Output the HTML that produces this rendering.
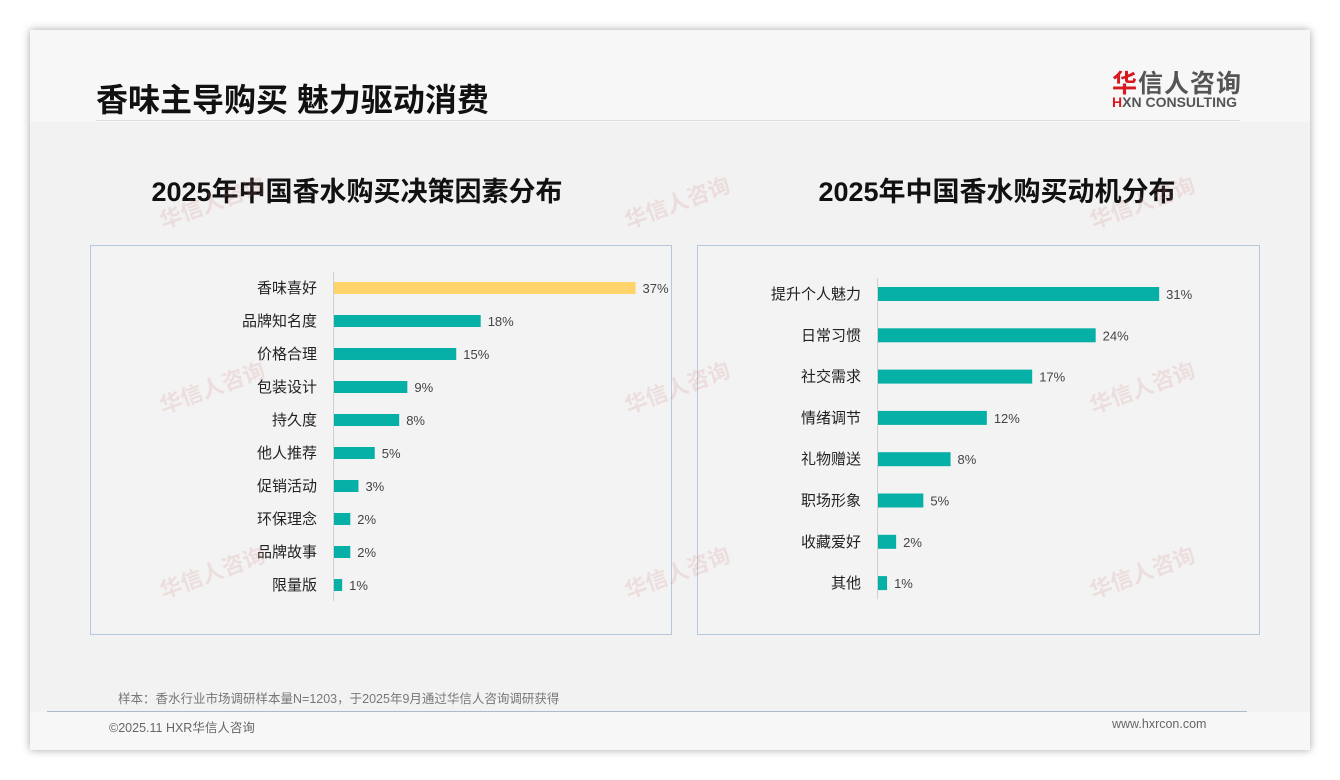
<!DOCTYPE html>
<html><head><meta charset="utf-8"><style>
body{margin:0;width:1340px;height:780px;background:#fff;font-family:"Liberation Sans","Noto Sans CJK SC",sans-serif;position:relative;overflow:hidden}
.slide{position:absolute;left:30px;top:30px;width:1280px;height:720px;background:#f2f2f2;box-shadow:0 0 8px rgba(0,0,0,.35)}
.hdr{position:absolute;left:0;top:0;width:1280px;height:92px;background:#f7f7f7}
.foot{position:absolute;left:0;top:682px;width:1280px;height:38px;background:#f7f7f7}
.abs{position:absolute}
</style></head><body>
<div class="slide">
<div class="hdr"></div>
<div class="foot"></div>
<div class="abs" style="left:66px;top:45px;font-size:32px;font-weight:bold;color:#111">香味主导购买 魅力驱动消费</div>
<div class="abs" style="left:66px;top:90px;width:1144px;height:1px;background:#ddd"></div>
<div class="abs" style="left:1082px;top:34px;font-size:25px;font-weight:bold;color:#555;letter-spacing:1px"><span style="color:#d71920">华</span>信人咨询</div>
<div class="abs" style="left:1082px;top:64px;font-size:14px;font-weight:bold;color:#555"><span style="color:#d71920">H</span>XN CONSULTING</div>
<div class="abs" style="left:88px;top:658px;font-size:12.5px;color:#777">样本：香水行业市场调研样本量N=1203，于2025年9月通过华信人咨询调研获得</div>
<div class="abs" style="left:17px;top:681px;width:1200px;height:1px;background:#aabccc"></div>
<div class="abs" style="left:79px;top:687px;font-size:12.5px;color:#666">©2025.11 HXR华信人咨询</div>
<div class="abs" style="left:1082px;top:687px;font-size:12.5px;color:#666">www.hxrcon.com</div>
</div>
<svg id="c" class="abs" style="left:0;top:0" width="1340" height="780"></svg>
<script>
const leftCats=["香味喜好","品牌知名度","价格合理","包装设计","持久度","他人推荐","促销活动","环保理念","品牌故事","限量版"];
const leftVals=[37,18,15,9,8,5,3,2,2,1];
const rightCats=["提升个人魅力","日常习惯","社交需求","情绪调节","礼物赠送","职场形象","收藏爱好","其他"];
const rightVals=[31,24,17,12,8,5,2,1];
const NS="http://www.w3.org/2000/svg";
const svg=document.getElementById('c');
function mk(t,a,txt){const e=document.createElementNS(NS,t);for(const k in a)e.setAttribute(k,a[k]);if(txt!==undefined)e.textContent=txt;svg.appendChild(e);return e;}
function chart(o){
 const box=mk('rect',{x:o.bx,y:245.5,width:o.bw,height:389,fill:'#f3f3f3',stroke:'#b8c8dc'});
 
 
 const t=mk('text',{x:o.tx,y:201,'text-anchor':'middle','font-size':27,'font-weight':'bold',fill:'#111'},o.title);
 
 
 const ax=mk('line',{x1:o.ax+0.5,x2:o.ax+0.5,y1:o.y0-16,y2:o.y0+o.step*(o.cats.length-1)+16,stroke:'#d0d0d0'});
 
 
 const xs=v=>o.ax+v*o.k;
 o.cats.forEach((c,i)=>{
  const y=o.y0+i*o.step;
  const l=mk('text',{x:o.ax-16,y:y+5,'text-anchor':'end','font-size':15,fill:'#222'},c);
  
  
  const b=mk('rect',{x:o.ax+1,y:y-o.bh/2,width:xs(o.vals[i])-o.ax,height:o.bh,fill:(o.hl&&i==0)?'#fdd36a':'#07b0a6'});
  
  
  const v=mk('text',{x:xs(o.vals[i])+8,y:y+5,'font-size':13,fill:'#444'},o.vals[i]+'%');
  
  
 });
}
chart({name:'decision-factors',bx:90.5,bw:581,tx:357,title:'2025年中国香水购买决策因素分布',ax:333,y0:288,step:33,k:8.15,bh:12,cats:leftCats,vals:leftVals,hl:true});
chart({name:'purchase-motives',bx:697.5,bw:562,tx:997,title:'2025年中国香水购买动机分布',ax:877,y0:294,step:41.3,k:9.07,bh:14,cats:rightCats,vals:rightVals,hl:false});
// watermarks on top, faint
[[215,210],[680,210],[1145,210],[215,395],[680,395],[1145,395],[215,580],[680,580],[1145,580]].forEach(p=>{
 const w=mk('text',{x:p[0],y:p[1],'text-anchor':'middle','font-size':22,'font-weight':'bold',fill:'#d08080','fill-opacity':0.18,transform:`rotate(-20 ${p[0]} ${p[1]})`},'华信人咨询');
 
 
});
</script>
</body></html>
